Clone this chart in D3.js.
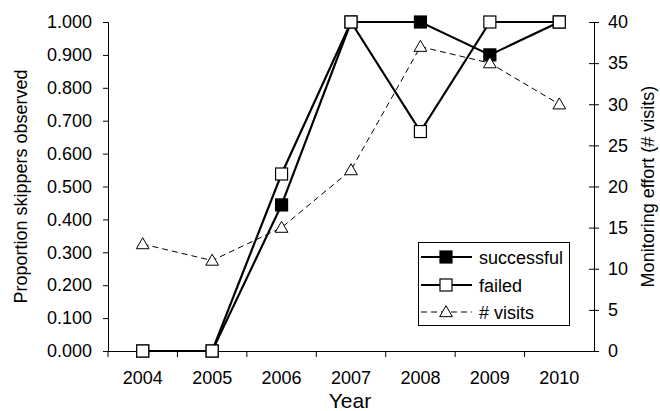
<!doctype html>
<html lang="en">
<head>
  <meta charset="utf-8">
  <title>Skippers observed</title>
  <style>
    body { margin: 0; background: #fff; }
    text { font-family: "Liberation Sans", Arial, sans-serif; fill: #000; }
  </style>
</head>
<body>
  <script src="https://cdn.jsdelivr.net/npm/d3@7/dist/d3.min.js"></script>
  <svg id="chart" width="660" height="411"></svg>
  <script>
    var years = ["2004", "2005", "2006", "2007", "2008", "2009", "2010"];
    var successful = [0, 0, 0.444, 1.0, 1.0, 0.9, 1.0];
    var failed = [0, 0, 0.538, 1.0, 0.667, 1.0, 1.0];
    var visits = [13, 11, 15, 22, 37, 35, 30];
    var leftTicks = [0, 0.1, 0.2, 0.3, 0.4, 0.5, 0.6, 0.7, 0.8, 0.9, 1.0];
    var rightTicks = [0, 5, 10, 15, 20, 25, 30, 35, 40];

    var svg = d3.select("#chart");
    // plot area edges (avoid "top", it is window.top)
    var pL = 108, pR = 594, pT = 22, pB = 351;

    var x = d3.scaleBand().domain(years).range([pL, pR]);
    var y = d3.scaleLinear().domain([0, 1]).range([pB, pT]);
    var y2 = d3.scaleLinear().domain([0, 40]).range([pB, pT]);
    var cx = d => x(d) + x.bandwidth() / 2;

    // left axis
    var gl = svg.append("g").attr("transform", "translate(" + pL + ",0)")
      .call(d3.axisLeft(y).tickValues(leftTicks).tickFormat(d3.format(".3f")).tickSize(5).tickPadding(11));
    gl.selectAll("text").style("font-size", "18px");

    // right axis, ticks cross the line
    var gr = svg.append("g").attr("transform", "translate(" + pR + ",0)")
      .call(d3.axisRight(y2).tickValues(rightTicks).tickSize(5).tickPadding(9));
    gr.selectAll(".tick line").attr("x1", -5);
    gr.selectAll("text").style("font-size", "18px");

    // x axis, ticks between categories
    var gx = svg.append("g").attr("transform", "translate(0," + pB + ")")
      .call(d3.axisBottom(x).tickSize(0).tickPadding(20));
    gx.selectAll("text").style("font-size", "18px");
    gx.selectAll(".bnd").data(years).enter().append("line")
      .attr("x1", d => x(d)).attr("x2", d => x(d))
      .attr("y1", 0).attr("y2", 6).attr("stroke", "#000");

    svg.selectAll(".domain").attr("stroke", "#000");
    svg.selectAll(".tick line").attr("stroke", "#000");

    // axis titles
    svg.append("text").attr("transform", "translate(27," + (pT + pB) / 2 + ") rotate(-90)")
      .attr("text-anchor", "middle").style("font-size", "18px").text("Proportion skippers observed");
    svg.append("text").attr("transform", "translate(654," + (pT + pB) / 2 + ") rotate(-90)")
      .attr("text-anchor", "middle").style("font-size", "18px").text("Monitoring effort (# visits)");
    svg.append("text").attr("x", (pL + pR) / 2 - 1).attr("y", 408)
      .attr("text-anchor", "middle").style("font-size", "21px").text("Year");

    var tri = d3.symbol().type(d3.symbolTriangle).size(70);

    function series(vals, scale, opts) {
      var line = d3.line().x((d, i) => cx(years[i])).y(d => scale(d));
      svg.append("path").datum(vals).attr("d", line)
        .attr("fill", "none").attr("stroke", "#000")
        .attr("stroke-width", opts.width).attr("stroke-dasharray", opts.dash || null);
      var g = svg.append("g");
      if (opts.shape === "square") {
        g.selectAll("rect").data(vals).enter().append("rect")
          .attr("x", (d, i) => cx(years[i]) - 6).attr("y", d => scale(d) - 6)
          .attr("width", 12).attr("height", 12)
          .attr("fill", opts.fill).attr("stroke", "#000").attr("stroke-width", 1.2);
      } else {
        g.selectAll("path").data(vals).enter().append("path")
          .attr("d", tri)
          .attr("transform", (d, i) => "translate(" + cx(years[i]) + "," + (scale(d) + 1) + ")")
          .attr("fill", "#fff").attr("stroke", "#000").attr("stroke-width", 1);
      }
    }

    series(successful, y, { width: 2.2, shape: "square", fill: "#000" });
    series(failed, y, { width: 2.2, shape: "square", fill: "#fff" });
    series(visits, y2, { width: 1, dash: "6,4", shape: "triangle" });

    // legend
    var lg = svg.append("g");
    lg.append("rect").attr("x", 418.5).attr("y", 242.5).attr("width", 151).attr("height", 83)
      .attr("fill", "#fff").attr("stroke", "#000");
    var items = [
      { label: "successful", y: 257, fill: "#000", shape: "square", width: 2.2 },
      { label: "failed", y: 285, fill: "#fff", shape: "square", width: 2.2 },
      { label: "# visits", y: 312, fill: "#fff", shape: "triangle", width: 1, dash: "6,4" }
    ];
    items.forEach(it => {
      lg.append("line").attr("x1", 421).attr("x2", 472).attr("y1", it.y).attr("y2", it.y)
        .attr("stroke", "#000").attr("stroke-width", it.width).attr("stroke-dasharray", it.dash || null);
      if (it.shape === "square") {
        lg.append("rect").attr("x", 440).attr("y", it.y - 6).attr("width", 12).attr("height", 12)
          .attr("fill", it.fill).attr("stroke", "#000").attr("stroke-width", 1.2);
      } else {
        lg.append("path").attr("d", tri).attr("transform", "translate(446," + (it.y + 1) + ")")
          .attr("fill", "#fff").attr("stroke", "#000");
      }
      lg.append("text").attr("x", 479).attr("y", it.y + 6.5).style("font-size", "18px").text(it.label);
    });
  </script>
</body>
</html>
